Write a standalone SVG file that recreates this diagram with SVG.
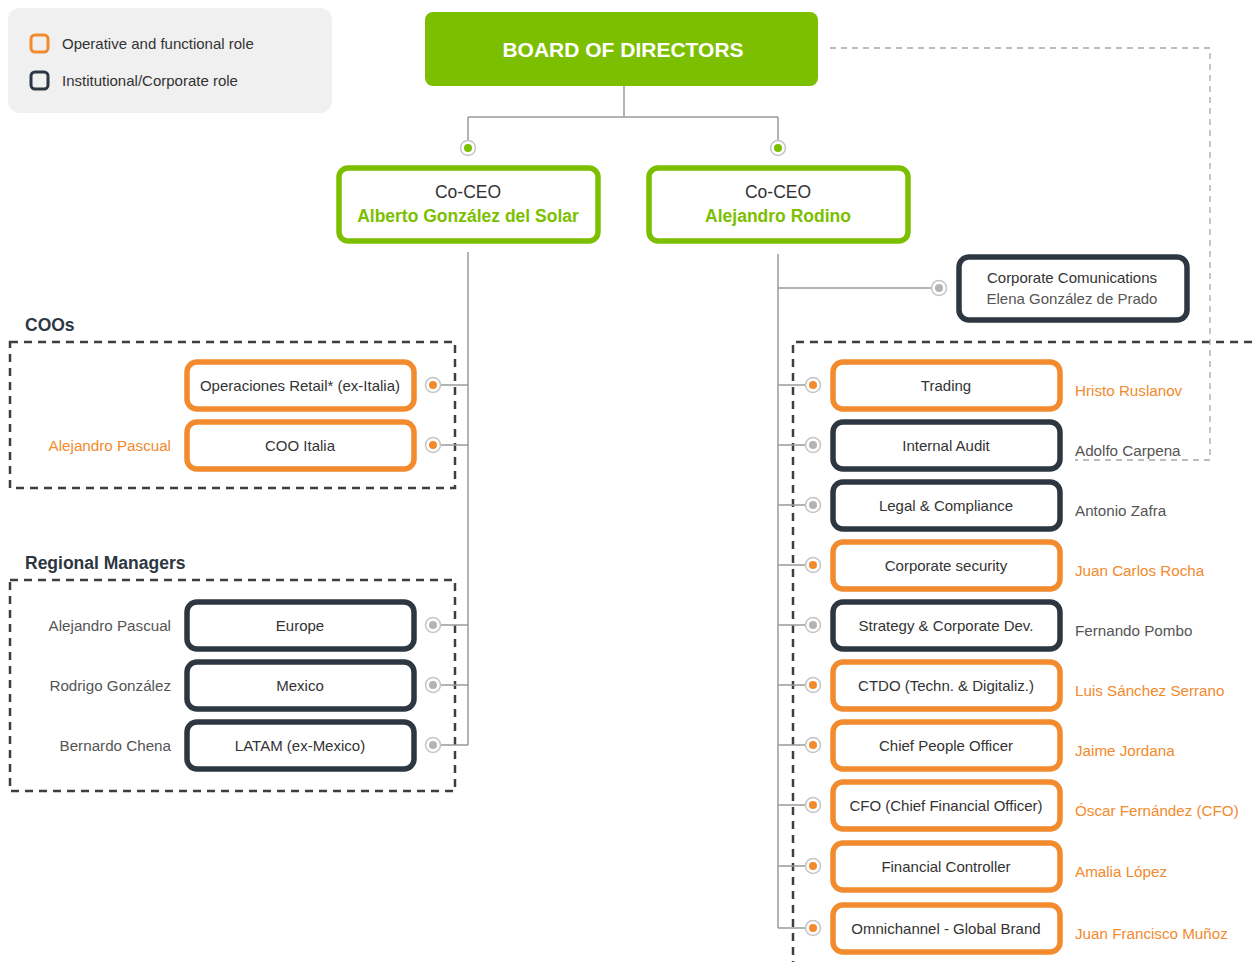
<svg xmlns="http://www.w3.org/2000/svg" width="1252" height="965" viewBox="0 0 1252 965">
<defs>
<style>
text{font-family:"Liberation Sans",Arial,sans-serif;}
.lbl{font-size:15px;fill:#333;text-anchor:middle;}
.nm{font-size:15.2px;}
.nmo{fill:#f28a2e;}
.nmg{fill:#555;}
.op{fill:#fff;stroke:#f28a2e;stroke-width:5.5;}
.inst{fill:#fff;stroke:#2c3742;stroke-width:5.5;}
.ceo{fill:#fff;stroke:#7cbf00;stroke-width:5.5;}
.ring{fill:#fff;stroke:#c4c4c4;stroke-width:1.5;}
.dg{fill:#7cbf00;}.dor{fill:#f28a2e;}.dgr{fill:#b4b4b4;}
.ln{stroke:#9a9a9a;stroke-width:1.5;fill:none;}
.grp{fill:none;stroke:#3a3f45;stroke-width:2.5;stroke-dasharray:8 6;}
.dl{fill:none;stroke:#a8a8a8;stroke-width:1.3;stroke-dasharray:6 5;}
.hd{font-size:17.5px;font-weight:bold;fill:#2c3742;}
</style>
</defs>
<rect width="1252" height="965" fill="#fff"/>

<g id="legend">
<rect x="8" y="8" width="324" height="105" rx="12" fill="#f0f0f0"/>
<rect x="31" y="35" width="17" height="17" rx="4" fill="none" stroke="#f28a2e" stroke-width="3"/>
<text x="62" y="49" font-size="15" fill="#333">Operative and functional role</text>
<rect x="31" y="72" width="17" height="17" rx="4" fill="none" stroke="#2c3742" stroke-width="3"/>
<text x="62" y="86" font-size="15" fill="#333">Institutional/Corporate role</text>
</g>

<g id="groups">
<text class="hd" x="25" y="331">COOs</text>
<rect class="grp" x="10" y="342" width="445" height="146"/>
<text class="hd" x="25" y="569">Regional Managers</text>
<rect class="grp" x="10" y="580" width="445" height="211"/>
<path class="grp" d="M1252 342 H793 V962"/>
</g>

<g id="connectors">
<path class="dl" d="M830 48 H1210 V460 H1075"/>
<path class="ln" d="M624 86 V117 M468 117 H778 M468 117 V141 M778 117 V141"/>
<path class="ln" d="M468 252 V745 M440 385 H468 M440 445 H468 M440 625 H468 M440 685 H468 M440 745 H468"/>
<path class="ln" d="M778 254 V928 M778 288 H932 M778 385 H806 M778 445 H806 M778 505 H806 M778 565 H806 M778 625 H806 M778 685 H806 M778 745 H806 M778 805 H806 M778 866 H806 M778 928 H806"/>
<g id="dots">
<circle class="ring" cx="468" cy="148" r="7.5"/><circle class="dg" cx="468" cy="148" r="4"/>
<circle class="ring" cx="778" cy="148" r="7.5"/><circle class="dg" cx="778" cy="148" r="4"/>
<circle class="ring" cx="939" cy="288" r="7.5"/><circle class="dgr" cx="939" cy="288" r="4"/>
<circle class="ring" cx="433" cy="385" r="7.5"/><circle class="dor" cx="433" cy="385" r="4"/>
<circle class="ring" cx="433" cy="445" r="7.5"/><circle class="dor" cx="433" cy="445" r="4"/>
<circle class="ring" cx="433" cy="625" r="7.5"/><circle class="dgr" cx="433" cy="625" r="4"/>
<circle class="ring" cx="433" cy="685" r="7.5"/><circle class="dgr" cx="433" cy="685" r="4"/>
<circle class="ring" cx="433" cy="745" r="7.5"/><circle class="dgr" cx="433" cy="745" r="4"/>
<circle class="ring" cx="813" cy="385" r="7.5"/><circle class="dor" cx="813" cy="385" r="4"/>
<circle class="ring" cx="813" cy="445" r="7.5"/><circle class="dgr" cx="813" cy="445" r="4"/>
<circle class="ring" cx="813" cy="505" r="7.5"/><circle class="dgr" cx="813" cy="505" r="4"/>
<circle class="ring" cx="813" cy="565" r="7.5"/><circle class="dor" cx="813" cy="565" r="4"/>
<circle class="ring" cx="813" cy="625" r="7.5"/><circle class="dgr" cx="813" cy="625" r="4"/>
<circle class="ring" cx="813" cy="685" r="7.5"/><circle class="dor" cx="813" cy="685" r="4"/>
<circle class="ring" cx="813" cy="745" r="7.5"/><circle class="dor" cx="813" cy="745" r="4"/>
<circle class="ring" cx="813" cy="805" r="7.5"/><circle class="dor" cx="813" cy="805" r="4"/>
<circle class="ring" cx="813" cy="866" r="7.5"/><circle class="dor" cx="813" cy="866" r="4"/>
<circle class="ring" cx="813" cy="928" r="7.5"/><circle class="dor" cx="813" cy="928" r="4"/>
</g>
</g>

<g id="board">
<rect x="425" y="12" width="393" height="74" rx="8" fill="#7cbf00"/>
<text x="623" y="57" font-size="21" font-weight="bold" fill="#fff" text-anchor="middle">BOARD OF DIRECTORS</text>
</g>

<g id="coceo1">
<rect class="ceo" x="339" y="168" width="259" height="73" rx="9"/>
<text x="468" y="198" font-size="17.5" fill="#333" text-anchor="middle">Co-CEO</text>
<text x="468" y="222" font-size="17.5" font-weight="bold" fill="#7cbf00" text-anchor="middle">Alberto González del Solar</text>
</g>
<g id="coceo2">
<rect class="ceo" x="649" y="168" width="259" height="73" rx="9"/>
<text x="778" y="198" font-size="17.5" fill="#333" text-anchor="middle">Co-CEO</text>
<text x="778" y="222" font-size="17.5" font-weight="bold" fill="#7cbf00" text-anchor="middle">Alejandro Rodino</text>
</g>

<g id="corpcomm">
<rect class="inst" x="959" y="257" width="228" height="63" rx="10"/>
<text class="lbl" x="1072" y="283">Corporate Comunications</text>
<text class="lbl" x="1072" y="304" style="fill:#555">Elena González de Prado</text>
</g>

<g id="coo-retail">
<rect class="op" x="187" y="362" width="227" height="47" rx="10"/>
<text class="lbl" x="300" y="391">Operaciones Retail* (ex-Italia)</text>
</g>
<g id="coo-italia">
<rect class="op" x="187" y="422" width="227" height="47" rx="10"/>
<text class="lbl" x="300" y="451">COO Italia</text>
<text class="nm nmo" x="171" y="451" text-anchor="end">Alejandro Pascual</text>
</g>

<g id="rm-europe">
<rect class="inst" x="187" y="602" width="227" height="47" rx="10"/>
<text class="lbl" x="300" y="631">Europe</text>
<text class="nm nmg" x="171" y="631" text-anchor="end">Alejandro Pascual</text>
</g>
<g id="rm-mexico">
<rect class="inst" x="187" y="662" width="227" height="47" rx="10"/>
<text class="lbl" x="300" y="691">Mexico</text>
<text class="nm nmg" x="171" y="691" text-anchor="end">Rodrigo González</text>
</g>
<g id="rm-latam">
<rect class="inst" x="187" y="722" width="227" height="47" rx="10"/>
<text class="lbl" x="300" y="751">LATAM (ex-Mexico)</text>
<text class="nm nmg" x="171" y="751" text-anchor="end">Bernardo Chena</text>
</g>

<g id="trading">
<rect class="op" x="833" y="362" width="227" height="47" rx="10"/>
<text class="lbl" x="946" y="391">Trading</text>
<text class="nm nmo" x="1075" y="396">Hristo Ruslanov</text>
</g>
<g id="audit">
<rect class="inst" x="833" y="422" width="227" height="47" rx="10"/>
<text class="lbl" x="946" y="451">Internal Audit</text>
<text class="nm nmg" x="1075" y="456">Adolfo Carpena</text>
</g>
<g id="legal">
<rect class="inst" x="833" y="482" width="227" height="47" rx="10"/>
<text class="lbl" x="946" y="511">Legal &amp; Compliance</text>
<text class="nm nmg" x="1075" y="516">Antonio Zafra</text>
</g>
<g id="security">
<rect class="op" x="833" y="542" width="227" height="47" rx="10"/>
<text class="lbl" x="946" y="571">Corporate security</text>
<text class="nm nmo" x="1075" y="576">Juan Carlos Rocha</text>
</g>
<g id="strategy">
<rect class="inst" x="833" y="602" width="227" height="47" rx="10"/>
<text class="lbl" x="946" y="631">Strategy &amp; Corporate Dev.</text>
<text class="nm nmg" x="1075" y="636">Fernando Pombo</text>
</g>
<g id="ctdo">
<rect class="op" x="833" y="662" width="227" height="47" rx="10"/>
<text class="lbl" x="946" y="691">CTDO (Techn. &amp; Digitaliz.)</text>
<text class="nm nmo" x="1075" y="696">Luis Sánchez Serrano</text>
</g>
<g id="people">
<rect class="op" x="833" y="722" width="227" height="47" rx="10"/>
<text class="lbl" x="946" y="751">Chief People Officer</text>
<text class="nm nmo" x="1075" y="756">Jaime Jordana</text>
</g>
<g id="cfo">
<rect class="op" x="833" y="782" width="227" height="47" rx="10"/>
<text class="lbl" x="946" y="811">CFO (Chief Financial Officer)</text>
<text class="nm nmo" x="1075" y="816">Óscar Fernández (CFO)</text>
</g>
<g id="controller">
<rect class="op" x="833" y="843" width="227" height="47" rx="10"/>
<text class="lbl" x="946" y="872">Financial Controller</text>
<text class="nm nmo" x="1075" y="877">Amalia López</text>
</g>
<g id="omni">
<rect class="op" x="833" y="905" width="227" height="47" rx="10"/>
<text class="lbl" x="946" y="934">Omnichannel - Global Brand</text>
<text class="nm nmo" x="1075" y="939">Juan Francisco Muñoz</text>
</g>
</svg>
